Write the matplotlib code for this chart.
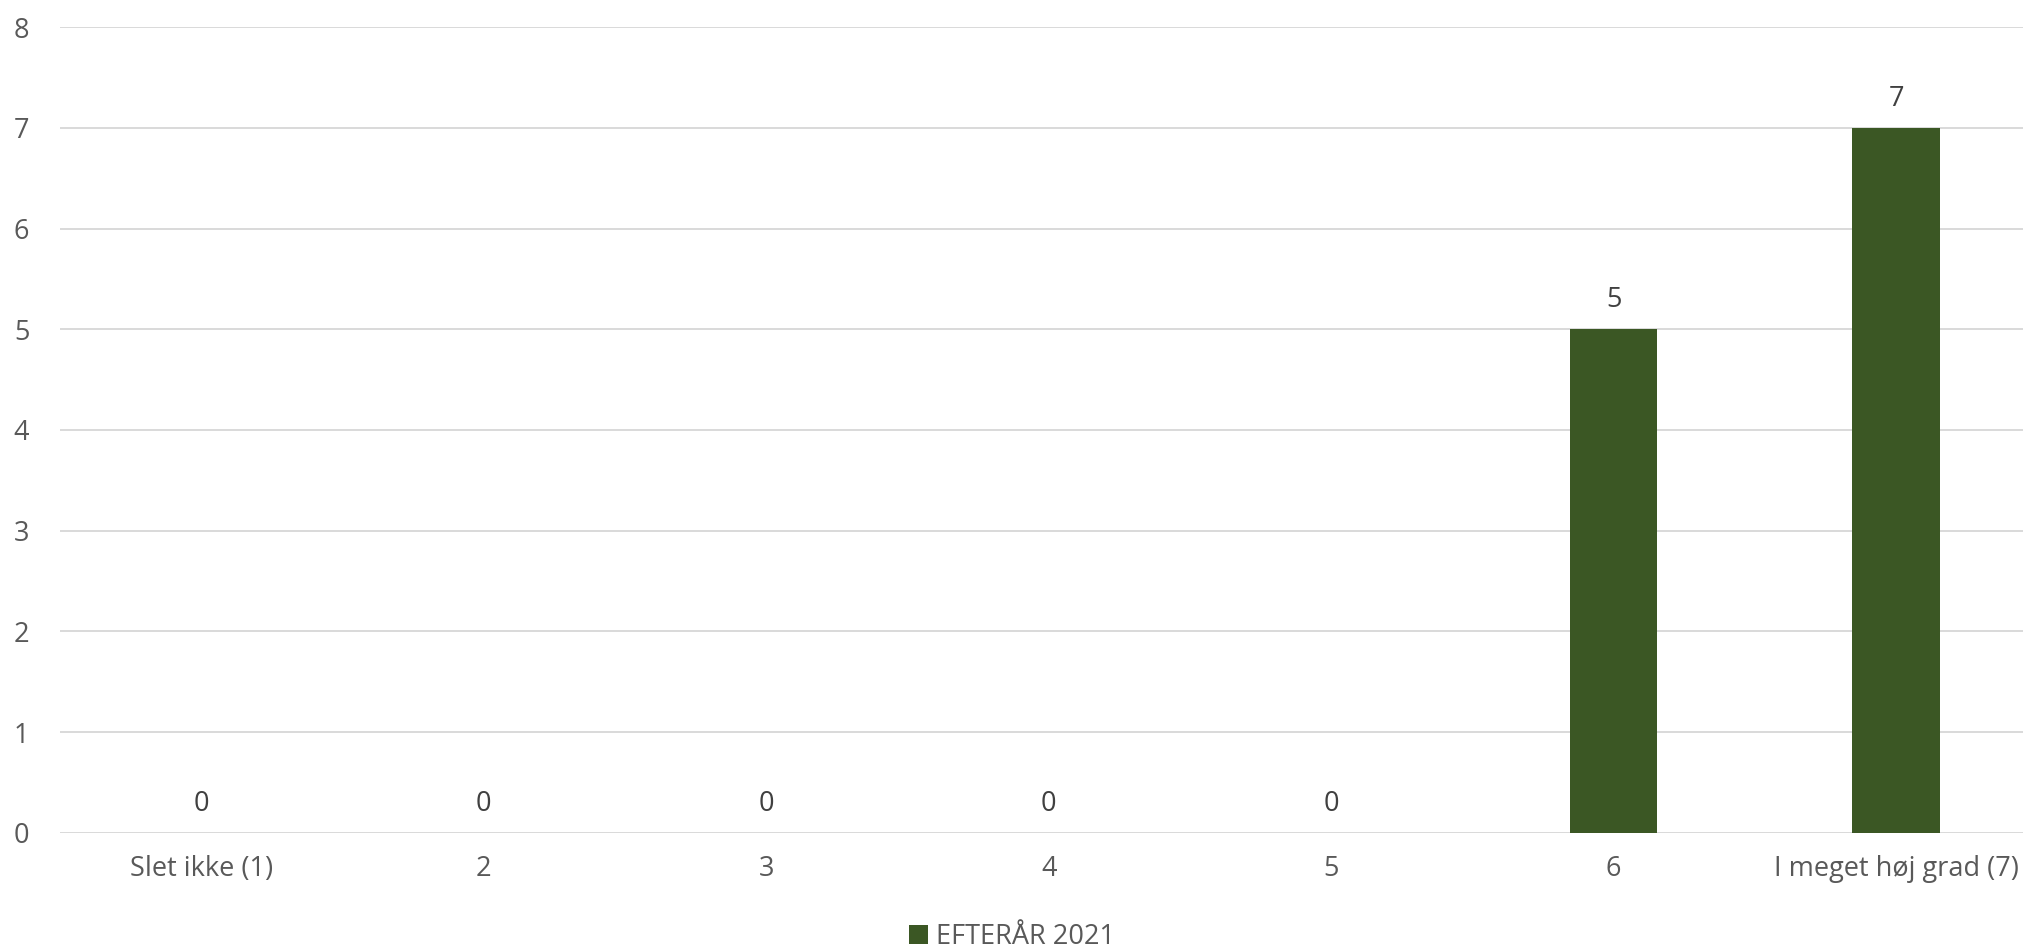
import matplotlib.pyplot as plt
import numpy as np

plt.rcParams['font.family'] = ['Open Sans', 'DejaVu Sans']

categories = ['Slet ikke (1)', '2', '3', '4', '5', '6', 'I meget høj grad (7)']
values = [0, 0, 0, 0, 0, 5, 7]
series_name = 'EFTERÅR 2021'
bar_color = '#3b5724'

fig = plt.figure(figsize=(20.24, 9.51), dpi=100)
ax = fig.add_axes([0.0296, 0.1241, 0.977, 0.8475])

x = np.arange(len(categories))
bars = ax.bar(x, values, width=0.31, color=bar_color, linewidth=0,
              label=series_name, zorder=3)

for xi, v in zip(x, values):
    ax.text(xi, v + 0.15, str(v), ha='center', va='bottom', fontsize=19.5, color='#404040')

ax.set_xlim(-0.5, len(categories) - 0.5)
ax.set_ylim(0, 8)
ax.set_yticks(range(0, 9))
ax.yaxis.grid(True, color='#d9d9d9', linewidth=1.4, zorder=0)
ax.set_axisbelow(True)
for s in ax.spines.values():
    s.set_visible(False)
ax.tick_params(axis='both', length=0, labelsize=19.5, labelcolor='#595959')
ax.tick_params(axis='y', pad=22)
ax.tick_params(axis='x', pad=16)
ax.set_xticks(x)
ax.set_xticklabels(categories)

fig.legend(handles=[bars], labels=[series_name], loc='center', bbox_to_anchor=(0.5, 0.015),
           frameon=False, fontsize=19.5, labelcolor='#595959', handlelength=0.7, handleheight=0.7,
           handletextpad=0.3)

plt.savefig('out.png', dpi=100)
